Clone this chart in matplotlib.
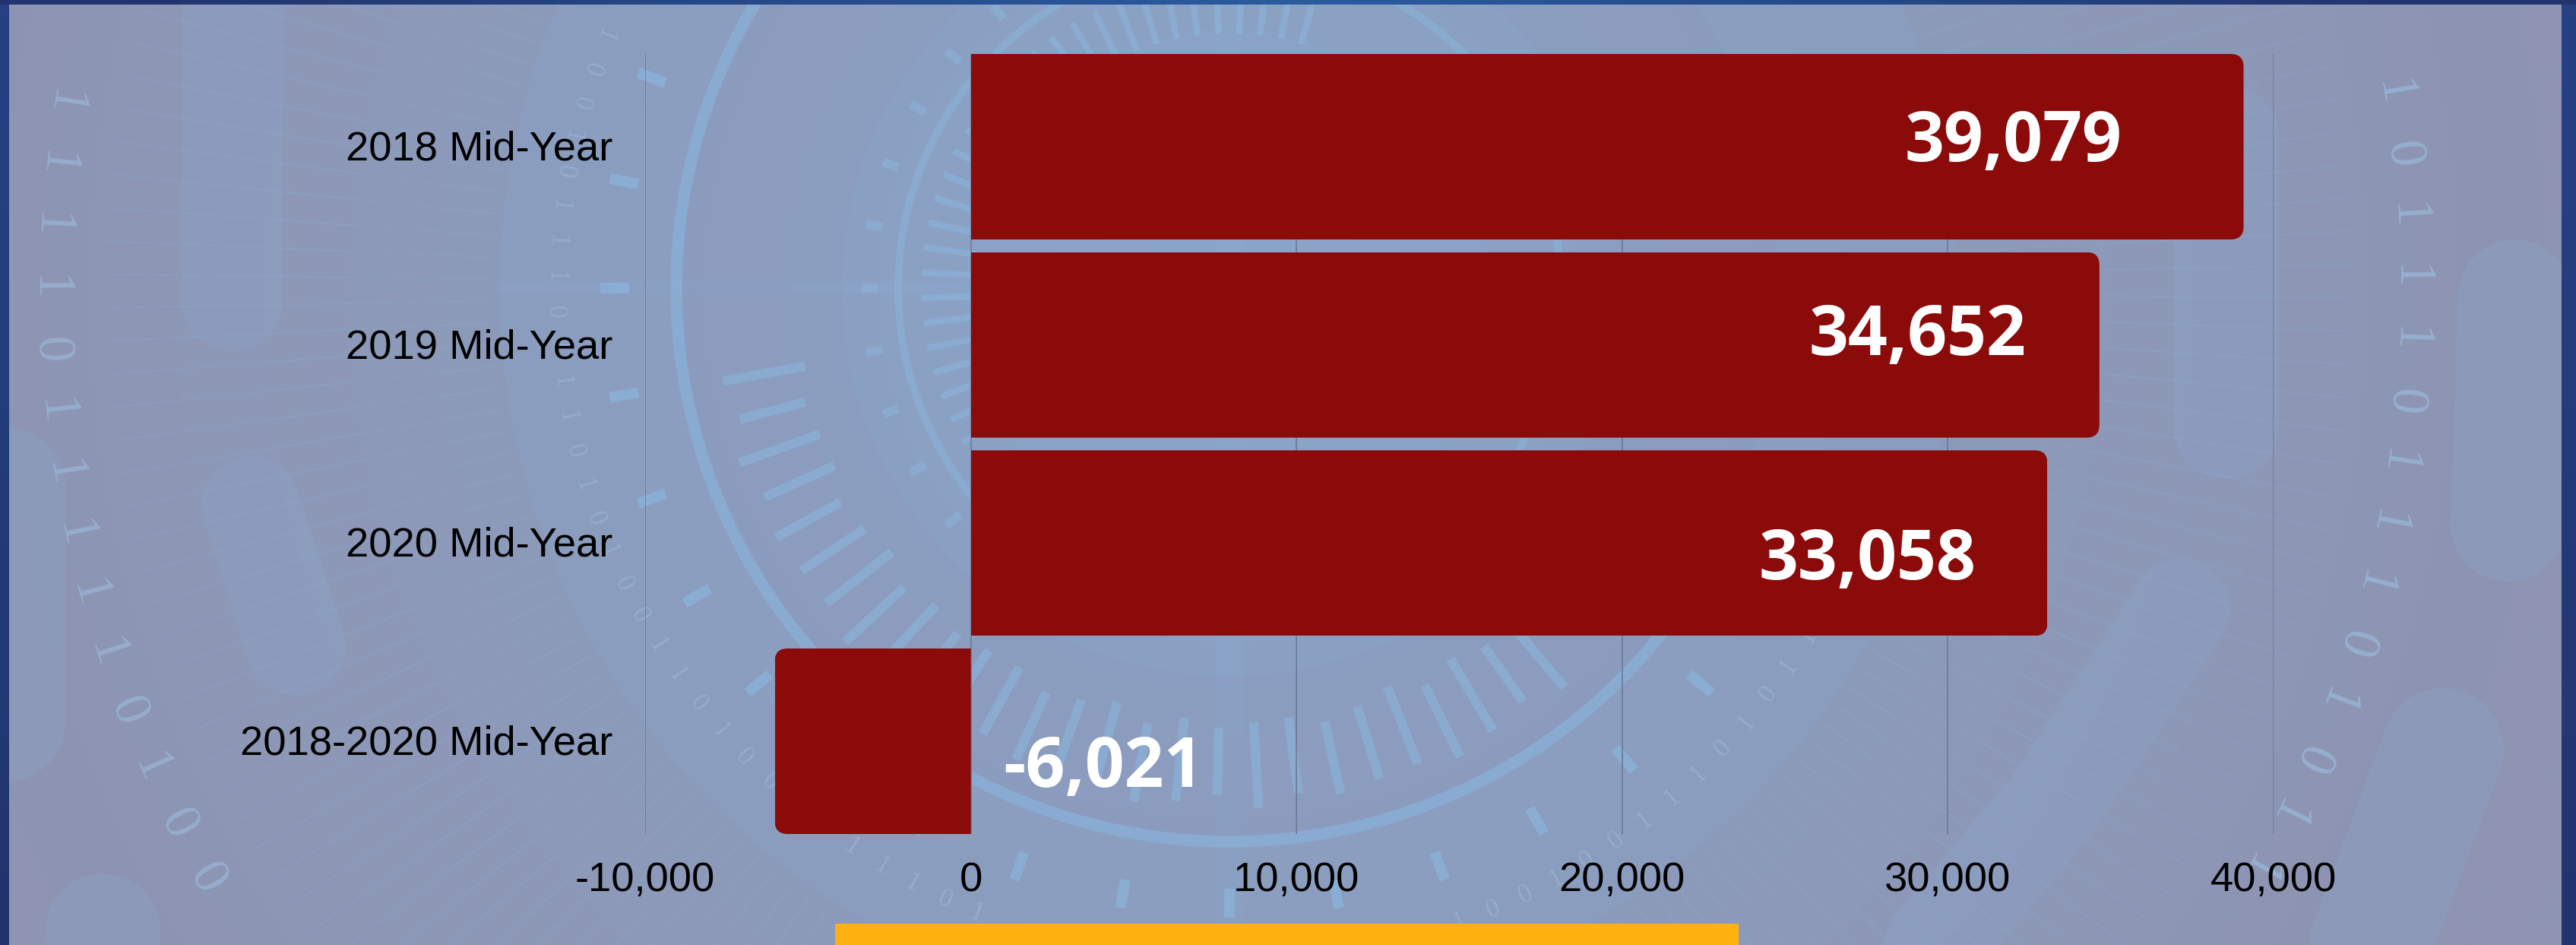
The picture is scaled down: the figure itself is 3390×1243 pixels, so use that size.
import numpy as np
import matplotlib
matplotlib.use("Agg")
import matplotlib.pyplot as plt
from matplotlib.collections import LineCollection
from matplotlib.patches import Rectangle, Circle, Wedge, PathPatch, Arc
from matplotlib.path import Path
from matplotlib.ticker import FuncFormatter
from matplotlib.transforms import ScaledTranslation

# ---- chart data
categories = ["2018 Mid-Year", "2019 Mid-Year", "2020 Mid-Year", "2018-2020 Mid-Year"]
values = [39079, 34652, 33058, -6021]
value_labels = ["39,079", "34,652", "33,058", "-6,021"]
x_ticks = [-10000, 0, 10000, 20000, 30000, 40000]

# ---- label placement (data units)
label_x = [32011, 29072, 27531, 4060]
label_dy = [0.073, 0.05, 0.184, 0.23]

# ---- decorative binary digits of the backdrop
digits_left = "1111101111101001110111001101"
digits_right = "110111011101011010"
digits_inner = "010010111011101010011010010111010011001101001100100111010110"

W, H = 3391, 1243
DPI = 100
fig = plt.figure(figsize=(W / DPI, H / DPI), dpi=DPI)

# ---------------- backdrop (pixel coordinates)
bg = fig.add_axes([0, 0, 1, 1], zorder=0)
bg.set_xlim(0, W)
bg.set_ylim(H, 0)
bg.axis("off")

CX, CY = 1618, 379
PANEL = (12, 6, 3371, 1243)
LIGHT = "#8ab8e2"

yy, xx = np.mgrid[0:H:4, 0:W:4]
d = np.clip(np.hypot(xx - CX, yy - CY) / 1750, 0, 1)[..., None]
inner = np.array([0x8b, 0xa3, 0xc6]) / 255
outer = np.array([0x8e, 0x94, 0xb2]) / 255
grad = inner * (1 - d) + outer * d
bg.imshow(grad, extent=(PANEL[0], PANEL[2], PANEL[3], PANEL[1]), aspect="auto", zorder=1,
          interpolation="bilinear")
frame_d = np.clip(np.abs(np.linspace(0, W, 400) - 1700) / 1500, 0, 1)[None, :, None]
frame = np.array([0x2a, 0x5c, 0xa0]) / 255 * (1 - frame_d) + np.array([0x22, 0x34, 0x6e]) / 255 * frame_d
bg.imshow(frame, extent=(0, W, PANEL[1], 0), aspect="auto", zorder=1)
side = np.linspace(0, 1, 100)[:, None, None]
side_col = np.array([0x22, 0x34, 0x6e]) / 255 * side + np.array([0x26, 0x42, 0x85]) / 255 * (1 - side)
bg.imshow(side_col, extent=(0, PANEL[0], H, PANEL[1]), aspect="auto", zorder=1)
bg.imshow(side_col, extent=(PANEL[2], W, H, PANEL[1]), aspect="auto", zorder=1)
bg.set_xlim(0, W)
bg.set_ylim(H, 0)

clip = Rectangle((PANEL[0], PANEL[1]), PANEL[2] - PANEL[0], PANEL[3] - PANEL[1],
                 transform=bg.transData)


def add(artist):
    bg.add_artist(artist)
    artist.set_clip_path(clip)
    return artist


# light discs and rings
add(Circle((CX, CY), 960, fc=LIGHT, ec="none", alpha=0.10, zorder=2))
add(Wedge((CX, CY), 720, 0, 360, width=210, fc="#8d92b4", ec="none", alpha=0.20, zorder=2))
add(Arc((CX, CY), 2 * 728, 2 * 728, theta1=20, theta2=300, ec=LIGHT, lw=11, alpha=0.5, zorder=3))
add(Circle((CX, CY), 436, fc="none", ec=LIGHT, lw=7, alpha=0.45, zorder=3))
add(Rectangle((PANEL[0] + 640, 370), 1700, 16, fc=LIGHT, ec="none", alpha=0.10, zorder=3))
add(Rectangle((1600, 0), 36, H, fc=LIGHT, ec="none", alpha=0.10, zorder=3))

# capsules
capsules = [
    ([(305, -40), (305, 395)], 133), ([(330, 665), (390, 850)], 130), ([(8, 640), (8, 950)], 155),
    ([(135, 1225), (135, 1350)], 152), ([(640, 1252), (640, 1350)], 115),
    ([(2930, 180), (2930, 560)], 140), ([(3310, 390), (3300, 690)], 150),
    ([(3215, 985), (3080, 1350)], 160), ([(2870, 800), (2700, 1060), (2480, 1320)], 130),
]
for pts, w in capsules:
    arr = np.array(pts)
    line, = bg.plot(arr[:, 0], arr[:, 1], color=LIGHT, lw=w * 72 / DPI, alpha=0.15,
                    solid_capstyle="round", solid_joinstyle="round", zorder=2.5)
    line.set_clip_path(clip)
bg.set_xlim(0, W)
bg.set_ylim(H, 0)


def radial(ang_deg, r0, r1):
    a = np.radians(ang_deg)
    return [(CX + r0 * np.cos(a), CY + r0 * np.sin(a)), (CX + r1 * np.cos(a), CY + r1 * np.sin(a))]


# fan of thin lines
fan = [radial(a, 970, 1480) for a in np.arange(-25, 215, 1.7)]
add(LineCollection(fan, colors=LIGHT, linewidths=1.6, alpha=0.16, zorder=2.6))

# radial ticks: outer, inner, and small blocks
pattern = [0, 6, -4, 10, -8, 3, 12, -2]
outer_ticks = [radial(a, 572 + pattern[i % 8], 675 + pattern[(i + 3) % 8])
               for i, a in enumerate(np.arange(50, 172, 4.6))]
add(LineCollection(outer_ticks, colors=LIGHT, linewidths=9, alpha=0.5, capstyle="butt", zorder=3))
inner_ticks = [radial(a, 335, 405) for a in np.arange(150, 290, 4.7)]
add(LineCollection(inner_ticks, colors=LIGHT, linewidths=6, alpha=0.5, capstyle="butt", zorder=3))
blocks_far = [radial(a, 790, 828) for a in range(40, 201, 10)]
add(LineCollection(blocks_far, colors=LIGHT, linewidths=10, alpha=0.6, capstyle="butt", zorder=3))
blocks_mid = [radial(a, 463, 485) for a in range(110, 251, 10)]
add(LineCollection(blocks_mid, colors=LIGHT, linewidths=8, alpha=0.45, capstyle="butt", zorder=3))


def ring_digits(digits, r, start, step, size, alpha, right_side=False):
    margin_y = size * 1.1
    margin_x = 35
    for i, ch in enumerate(digits):
        a = start + i * step  # screen angle, clockwise from +x
        x = CX + r * np.cos(np.radians(a))
        y = CY + r * np.sin(np.radians(a))
        if not (PANEL[0] + margin_x < x < PANEL[2] - margin_x and PANEL[1] + margin_y < y < PANEL[3] - margin_y):
            continue
        theta = -a
        rot = theta - 90 if right_side else theta + 90
        t = bg.text(x, y, ch, family="Liberation Serif", fontsize=size, color="#9dc0e2", alpha=alpha,
                    ha="center", va="center", rotation=rot, rotation_mode="anchor", zorder=3)
        t.set_clip_path(clip)


ring_digits(digits_left, 1555, 192, -3.0, 50, 0.55)
ring_digits(digits_right, 1552, -12.5, 3.0, 50, 0.6, right_side=True)
ring_digits(digits_inner, 888, 205, -3.0, 25, 0.45)

# amber block at the foot
bg.add_patch(Rectangle((1099, 1215), 1189, 40, fc="#ffb111", ec="none", zorder=5))

# ---------------- chart
ax_left, ax_right, ax_top, ax_bottom = 849, 2992, 71, 1097
ax = fig.add_axes([ax_left / W, 1 - ax_bottom / H, (ax_right - ax_left) / W, (ax_bottom - ax_top) / H],
                  zorder=2)
ax.patch.set_visible(False)
BAR_H = 0.936
pos = np.arange(len(categories))
bars = ax.barh(pos, values, height=BAR_H, color="#8b0b0b", zorder=3)
ax.set_xlim(-10000, 40000)
ax.set_ylim(len(categories) - 1 + BAR_H / 2, -BAR_H / 2)

# rounded outer corners through a clip path built from each bar
px_x = (ax_right - ax_left) / 50000
px_y = (ax_bottom - ax_top) / (len(categories) - 1 + BAR_H)
R = 17
rx, ry = R / px_x, R / px_y
for b, v in zip(bars, values):
    x0, x1 = 0, v
    y0, y1 = b.get_y(), b.get_y() + b.get_height()
    s = np.sign(v)
    verts = [(x0, y0), (x1 - s * rx, y0), (x1, y0), (x1, y0 + ry), (x1, y1 - ry), (x1, y1), (x1 - s * rx, y1),
             (x0, y1), (x0, y0)]
    codes = [Path.MOVETO, Path.LINETO, Path.CURVE3, Path.CURVE3, Path.LINETO, Path.CURVE3, Path.CURVE3,
             Path.LINETO, Path.CLOSEPOLY]
    b.set_clip_path(PathPatch(Path(verts, codes), transform=ax.transData))

for spine in ax.spines.values():
    spine.set_visible(False)
ax.xaxis.grid(True, color="#6c7a97", lw=1.2, zorder=1)
ax.yaxis.grid(False)
ax.set_axisbelow(True)
ax.set_xticks(x_ticks)
ax.xaxis.set_major_formatter(FuncFormatter(lambda v, _: f"{int(v):,}"))
ax.set_yticks(pos)
ax.set_yticklabels(categories)
ax.tick_params(axis="x", length=0, pad=26, labelsize=39.2, labelcolor="black")
ax.tick_params(axis="y", length=0, pad=31, labelsize=39.2, labelcolor="black")
for lab in ax.get_xticklabels() + ax.get_yticklabels():
    lab.set_family("Liberation Sans")
shift = ScaledTranslation(0, 2 / DPI, fig.dpi_scale_trans)
for lab in ax.get_yticklabels():
    lab.set_transform(lab.get_transform() + shift)

for i, txt in enumerate(value_labels):
    ax.text(label_x[i], pos[i] + label_dy[i], txt, family="Open Sans", weight="bold", fontsize=65.5,
            color="white", ha="center", va="baseline", zorder=5)

fig.savefig("out.png", dpi=DPI)
